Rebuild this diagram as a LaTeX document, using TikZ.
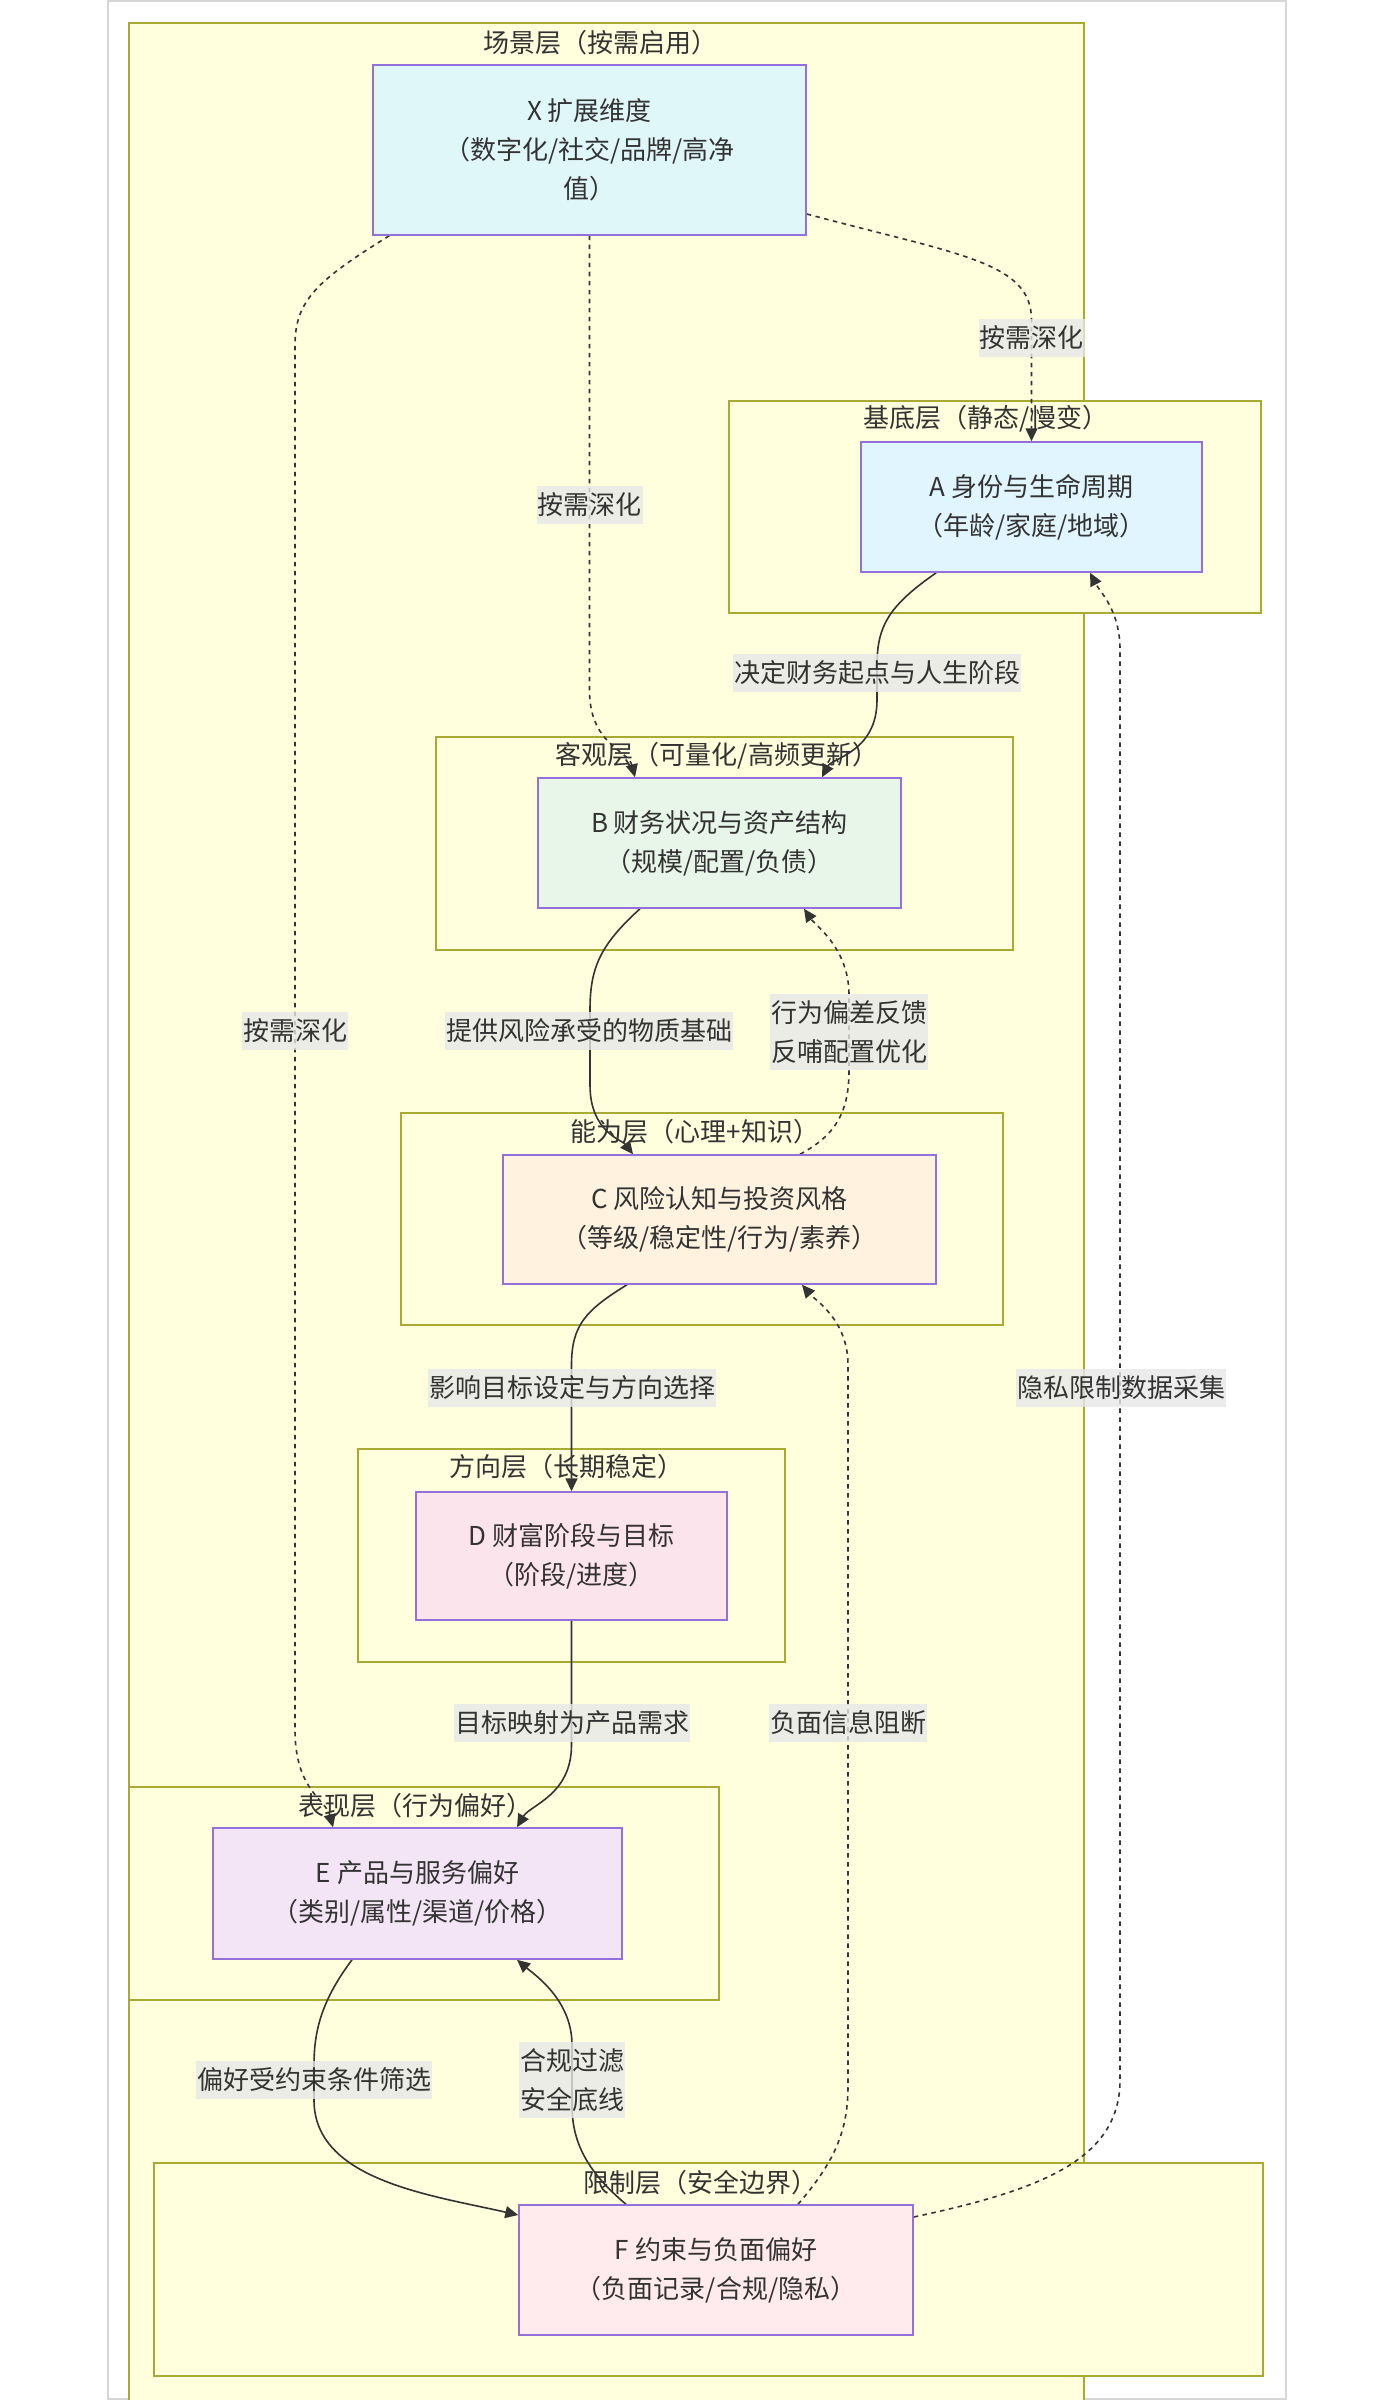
\documentclass[tikz,border=0pt]{standalone}
\usepackage{fontspec}
\newfontfamily\cjk{Noto Sans CJK SC}
\usetikzlibrary{arrows.meta,calc}
\definecolor{clfill}{HTML}{FFFFDE}
\definecolor{clstroke}{HTML}{AAAA33}
\definecolor{ndstroke}{HTML}{9370DB}
\definecolor{txt}{HTML}{333333}
\definecolor{lblbg}{HTML}{E8E8E8}
\definecolor{frame}{HTML}{D6D6D6}
\definecolor{fX}{HTML}{E0F7FA}
\definecolor{fA}{HTML}{E1F5FE}
\definecolor{fB}{HTML}{E8F5E9}
\definecolor{fC}{HTML}{FFF3E0}
\definecolor{fD}{HTML}{FCE4EC}
\definecolor{fE}{HTML}{F3E5F5}
\definecolor{fF}{HTML}{FFEBEE}
\pgfdeclarelayer{back}
\pgfdeclarelayer{edges}
\pgfsetlayers{back,edges,main}
\begin{document}
\begin{tikzpicture}[x=1pt,y=-1pt,
  every node/.style={font=\cjk\fontsize{26}{39}\selectfont, text=txt},
  cluster/.style={draw=clstroke, fill=clfill, line width=1.5pt, inner sep=0pt},
  ctitle/.style={inner sep=0pt},
  box/.style={draw=ndstroke, line width=1.5pt, align=center, inner sep=0pt},
  elabel/.style={fill=lblbg, fill opacity=0.8, text opacity=1, inner xsep=1pt, inner ysep=6.5pt, align=center},
  link/.style={draw=txt, line width=1.6pt, -{Triangle[length=13pt,width=12pt]}},
  dotlink/.style={link, dash pattern=on 4.5pt off 4.5pt},
]
\useasboundingbox (0,0) rectangle (1394,2400);
\clip (0,0) rectangle (1394,2400);
\begin{pgfonlayer}{back}
\fill[white] (0,0) rectangle (1394,2400);
\draw[draw=frame, line width=2pt] (108,1) rectangle (1286,2399);
\node[cluster, minimum width=955, minimum height=2407] (cS) at (606.5,1226.5) {};
\node[cluster, minimum width=532, minimum height=212] (cA) at (995,507) {};
\node[cluster, minimum width=577, minimum height=213] (cB) at (724.5,843.5) {};
\node[cluster, minimum width=602, minimum height=212] (cC) at (702,1219) {};
\node[cluster, minimum width=427, minimum height=213] (cD) at (571.5,1555.5) {};
\node[cluster, minimum width=590, minimum height=213] (cE) at (424,1893.5) {};
\node[cluster, minimum width=1109, minimum height=213] (cF) at (708.5,2269.5) {};
\node[ctitle] (tS) at (600,43) {场景层（按需启用）};
\node[ctitle] (tA) at (986,419) {基底层（静态/慢变）};
\node[ctitle] (tB) at (717,756) {客观层（可量化/高频更新）};
\node[ctitle] (tC) at (695,1132) {能为层（心理+知识）};
\node[ctitle] (tD) at (566,1467) {方向层（长期稳定）};
\node[ctitle] (tE) at (415,1806) {表现层（行为偏好）};
\node[ctitle] (tF) at (700,2183) {限制层（安全边界）};
\end{pgfonlayer}

\node[box, fill=fX, minimum width=433, minimum height=170] (X) at (589.5,150) {X 扩展维度\\（数字化/社交/品牌/高净\\值）};
\node[box, fill=fA, minimum width=341, minimum height=130] (A) at (1031.5,507) {A 身份与生命周期\\（年龄/家庭/地域）};
\node[box, fill=fB, minimum width=363, minimum height=130] (B) at (719.5,843) {B 财务状况与资产结构\\（规模/配置/负债）};
\node[box, fill=fC, minimum width=433, minimum height=129] (C) at (719.5,1219.5) {C 风险认知与投资风格\\（等级/稳定性/行为/素养）};
\node[box, fill=fD, minimum width=311, minimum height=128] (D) at (571.5,1556) {D 财富阶段与目标\\（阶段/进度）};
\node[box, fill=fE, minimum width=409, minimum height=131] (E) at (417.5,1893.5) {E 产品与服务偏好\\（类别/属性/渠道/价格）};
\node[box, fill=fF, minimum width=394, minimum height=130] (F) at (716,2270) {F 约束与负面偏好\\（负面记录/合规/隐私）};

\begin{pgfonlayer}{edges}
% X -> A
\draw[dotlink] ([yshift=-64pt]X.east) .. controls (960,255) and (1031.5,262) .. (1031.5,320) -- (A.north);
% X -> B
\draw[dotlink] (X.south) -- (589.5,690) .. controls (589.5,745) and (628,750) .. ([xshift=-84.5pt]B.north);
% X -> E
\draw[dotlink] ([xshift=17pt]X.south west) .. controls (318,280) and (295,300) .. (295,345) -- (295,1730) .. controls (295,1790) and (326,1800) .. ([xshift=-84.5pt]E.north);
% A -> B
\draw[link] ([xshift=76pt]A.south west) .. controls (890,605) and (877,625) .. (877,665) -- (877,700) .. controls (877,752) and (832,758) .. ([xshift=102.5pt]B.north);
% B -> C
\draw[link] ([xshift=-79.5pt]B.south) .. controls (600,945) and (590,968) .. (590,1010) -- (590,1085) .. controls (590,1132) and (622,1140) .. ([xshift=-86.5pt]C.north);
% C -> B
\draw[dotlink] ([xshift=80.5pt]C.north) .. controls (836,1135) and (849,1112) .. (849,1070) -- (849,995) .. controls (849,948) and (815,925) .. ([xshift=84.5pt]B.south);
% C -> D
\draw[link] ([xshift=-92.5pt]C.south) .. controls (586,1310) and (571.5,1325) .. (571.5,1365) -- (D.north);
% D -> E
\draw[link] (D.south) -- (571.5,1745) .. controls (571.5,1795) and (530,1805) .. ([xshift=99.5pt]E.north);
% E -> F
\draw[link] ([xshift=-65.5pt]E.south) .. controls (322,2000) and (314,2030) .. (314,2065) -- (314,2100) .. controls (314,2180) and (430,2195) .. ([yshift=55pt]F.west);
% F -> E
\draw[link] ([xshift=-90pt]F.north) .. controls (585,2170) and (572,2140) .. (572,2105) -- (572,2045) .. controls (572,2000) and (535,1975) .. ([xshift=99.5pt]E.south);
% F -> C
\draw[dotlink] ([xshift=82pt]F.north) .. controls (836,2160) and (848,2130) .. (848,2085) -- (848,1365) .. controls (848,1320) and (815,1300) .. ([xshift=82.5pt]C.south);
% F -> A
\draw[dotlink] ([yshift=53pt]F.east) .. controls (1040,2190) and (1120,2160) .. (1120,2080) -- (1120,650) .. controls (1120,610) and (1100,592) .. ([xshift=58.5pt]A.south);
\end{pgfonlayer}

\node[elabel] (lXA) at (1031.5,338) {按需深化};
\node[elabel] (lXB) at (589.5,505) {按需深化};
\node[elabel] (lXE) at (295,1031) {按需深化};
\node[elabel] (lAB) at (877,673) {决定财务起点与人生阶段};
\node[elabel] (lBC) at (589,1031) {提供风险承受的物质基础};
\node[elabel] (lCB) at (849,1032) {行为偏差反馈\\反哺配置优化};
\node[elabel] (lCD) at (572,1388) {影响目标设定与方向选择};
\node[elabel] (lDE) at (572,1723) {目标映射为产品需求};
\node[elabel] (lEF) at (314,2080) {偏好受约束条件筛选};
\node[elabel] (lFE) at (572,2080) {合规过滤\\安全底线};
\node[elabel] (lFC) at (848,1723) {负面信息阻断};
\node[elabel] (lFA) at (1121,1388) {隐私限制数据采集};
\end{tikzpicture}
\end{document}
